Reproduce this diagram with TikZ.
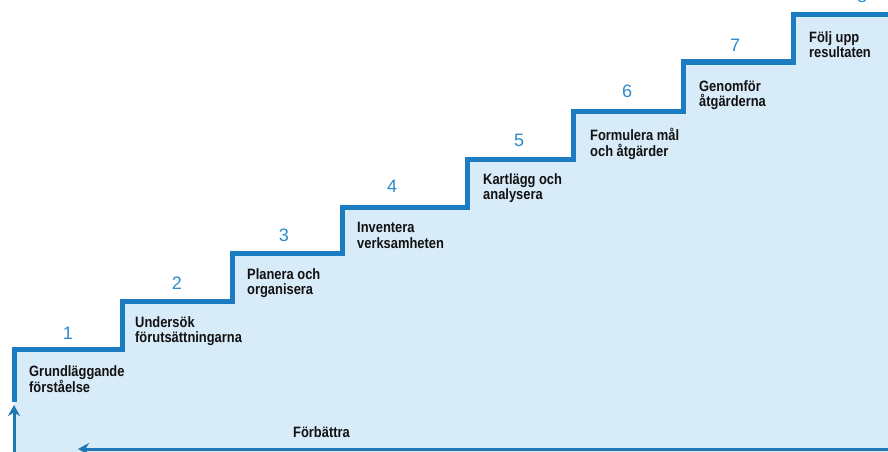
\documentclass[tikz,border=0pt]{standalone}
\usepackage{fontspec}
\setmainfont{Liberation Sans}
\newfontfamily\labfont[FakeStretch=0.86]{Liberation Sans}
\usetikzlibrary{arrows.meta}
\definecolor{stairblue}{HTML}{1B7CC1}
\definecolor{fillblue}{HTML}{D8EBF8}
\definecolor{numblue}{HTML}{2A8ACB}
\definecolor{loopblue}{HTML}{1F78B4}
\definecolor{labtext}{HTML}{111111}
\tikzset{
  lab/.style={anchor=north west, inner sep=0pt, align=left,
    font=\labfont\bfseries\fontsize{15}{15.5}\selectfont, text=labtext},
  num/.style={anchor=south, inner sep=0pt,
    font=\fontsize{18}{20}\selectfont, text=numblue},
  stairline/.style={draw=stairblue, line width=5pt, miter limit=4},
  loopline/.style={draw=loopblue, line width=3pt,
    -{Stealth[length=11pt,width=12pt]}}
}
\begin{document}
\begin{tikzpicture}[x=1pt,y=-1pt]
\useasboundingbox (0,0) rectangle (888,452);
\clip (0,0) rectangle (888,452);
% fill under the staircase
\fill[fillblue] (14,449) -- (14,349) -- (122,349) -- (122,301) -- (232,301)
  -- (232,253) -- (342,253) -- (342,207) -- (467,207) -- (467,159)
  -- (573,159) -- (573,111) -- (683,111) -- (683,62) -- (793,62)
  -- (793,15) -- (900,15) -- (900,460) -- (14,460) -- cycle;
% staircase line
\draw[stairline] (14,402) -- (14,349) -- (122,349) -- (122,301) -- (232,301)
  -- (232,253) -- (342,253) -- (342,207) -- (467,207) -- (467,159)
  -- (573,159) -- (573,111) -- (683,111) -- (683,62) -- (793,62)
  -- (793,15) -- (900,15);
% numbers
\node[num] (n1) at (68,340) {1};
\node[num] (n2) at (177,290) {2};
\node[num] (n3) at (284,242) {3};
\node[num] (n4) at (392,193) {4};
\node[num] (n5) at (519,147) {5};
\node[num] (n6) at (627,98) {6};
\node[num] (n7) at (735,52) {7};
\node[num] (n8) at (862,3) {8};
% step labels
\node[lab] (s1) at (29,365) {Grundläggande\\förståelse};
\node[lab] (s2) at (135,316) {Undersök\\förutsättningarna};
\node[lab] (s3) at (247,268) {Planera och\\organisera};
\node[lab] (s4) at (357,222) {Inventera\\verksamheten};
\node[lab] (s5) at (483,173) {Kartlägg och\\analysera};
\node[lab] (s6) at (590,128) {Formulera mål\\och åtgärder};
\node[lab] (s7) at (699,80) {Genomför\\åtgärderna};
\node[lab] (s8) at (809,31) {Följ upp\\resultaten};
% improvement loop
\node[lab, anchor=base west] (fb) at (293,437) {Förbättra};
\coordinate (loopR) at (895,449);
\coordinate (loopL) at (78,449);
\coordinate (upB) at (14,462);
\coordinate (upT) at (14,405);
\draw[loopline] (loopR) -- (loopL);
\draw[loopline] (upB) -- (upT);
\end{tikzpicture}
\end{document}
